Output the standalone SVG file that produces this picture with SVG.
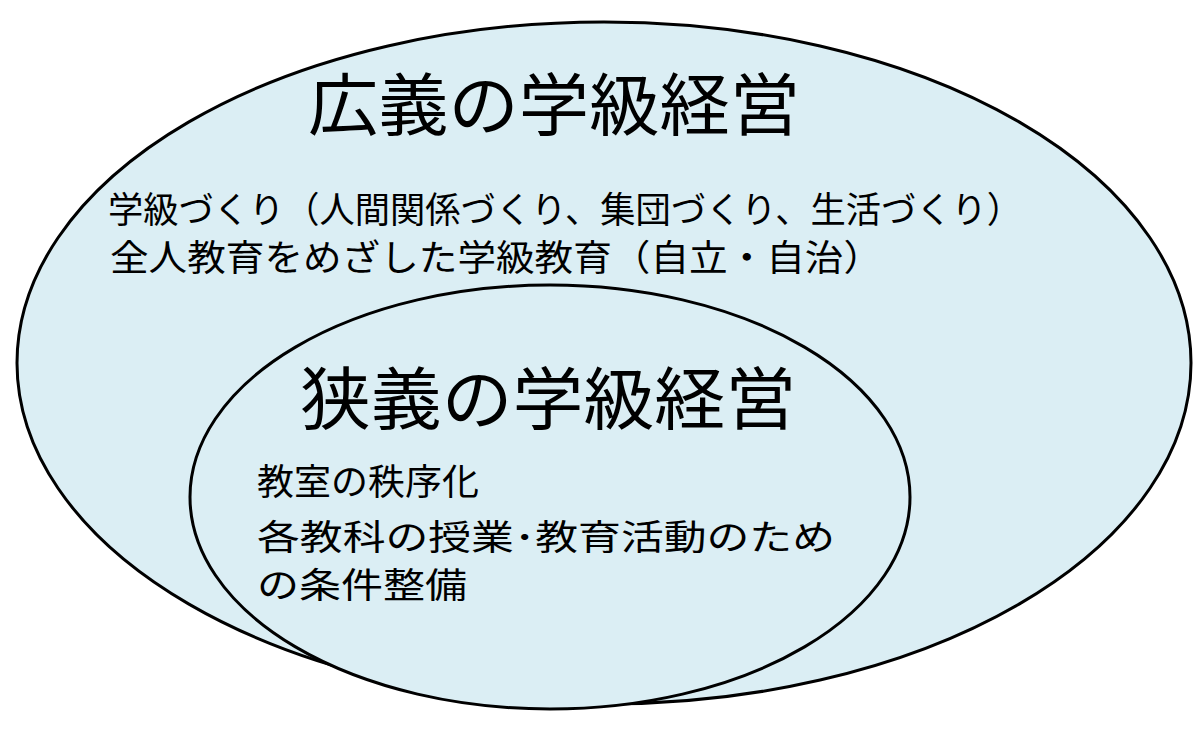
<svg xmlns="http://www.w3.org/2000/svg" width="1200" height="731" viewBox="0 0 1200 731">
<style>
.e{fill:#DBEEF4;stroke:#000;stroke-width:3}
text{font-family:"Noto Sans CJK JP","Noto Sans CJK SC",sans-serif;fill:#000}
.t{font-size:68px}
.b{font-size:36px}
.s{font-size:35px}
</style>
<rect width="1200" height="731" fill="#fff"/>
<g id="outer">
<ellipse class="e" cx="604" cy="363" rx="587" ry="341"/>
<text class="t" x="308" y="130" textLength="492" lengthAdjust="spacingAndGlyphs">広義の学級経営</text>
<text class="b" x="108" y="223" textLength="914" lengthAdjust="spacingAndGlyphs">学級づくり（人間関係づくり、集団づくり、生活づくり）</text>
<text class="b" x="110" y="271" textLength="772" lengthAdjust="spacingAndGlyphs">全人教育をめざした学級教育（自立・自治）</text>
</g>
<g id="inner">
<ellipse class="e" cx="550" cy="497" rx="360" ry="212"/>
<text class="t" x="300" y="424" textLength="496" lengthAdjust="spacingAndGlyphs">狭義の学級経営</text>
<text class="b" x="257" y="495" textLength="222" lengthAdjust="spacingAndGlyphs">教室の秩序化</text>
<text class="s" x="257" y="550" textLength="578" lengthAdjust="spacingAndGlyphs">各教科の授業･教育活動のため</text>
<text class="s" x="257" y="598" textLength="210" lengthAdjust="spacingAndGlyphs">の条件整備</text>
</g>
</svg>
